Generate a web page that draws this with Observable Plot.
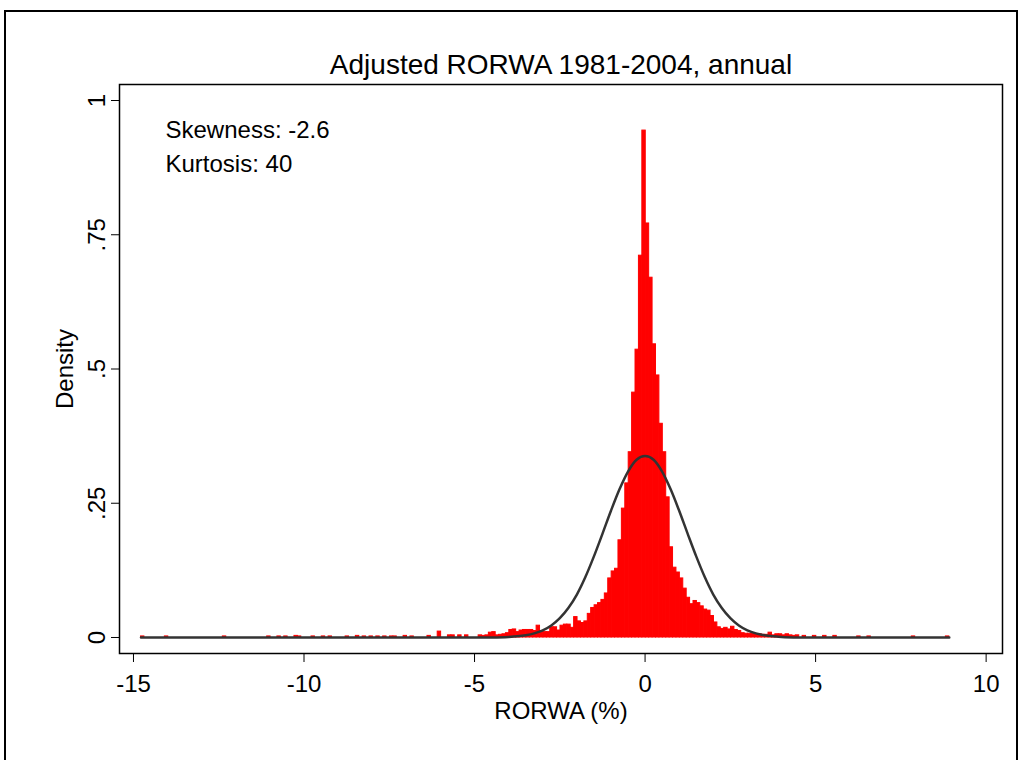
<!DOCTYPE html>
<html>
<head>
<meta charset="utf-8">
<script src="https://cdn.jsdelivr.net/npm/d3@7"></script>
<script src="https://cdn.jsdelivr.net/npm/@observablehq/plot@0.6"></script>
<style>
html, body { margin: 0; padding: 0; background: #fff; overflow: hidden; }
#wrap { position: relative; width: 1022px; height: 760px; }
#border { position: absolute; left: 4px; top: 10px; width: 1014px; height: 800px; border: 2px solid #000; box-sizing: border-box; }
#chart { position: absolute; left: 0; top: 0; }
</style>
</head>
<body>
<div id="wrap"><div id="border"></div><div id="chart"></div></div>
<script>
// Histogram: left edge of each non-empty bin (bin width 0.1) and its density
const binWidth = 0.1;
const binStart = [
  -14.78, -14.08, -12.38, -11.08, -10.78, -10.58, -10.28, -10.18, -9.78, -9.48, -9.28,
  -8.78, -8.48, -8.28, -8.08, -7.88, -7.68, -7.48, -7.38, -7.08, -6.88, -6.38, -6.08,
  -5.78, -5.68, -5.48, -5.28, -4.88, -4.78, -4.68, -4.58, -4.48, -4.38, -4.28, -4.18,
  -4.08, -3.98, -3.88, -3.78, -3.68, -3.58, -3.48, -3.38, -3.28, -3.18, -3.08, -2.98,
  -2.88, -2.78, -2.68, -2.58, -2.48, -2.38, -2.28, -2.18, -2.08, -1.98, -1.88, -1.78,
  -1.68, -1.58, -1.48, -1.38, -1.28, -1.18, -1.08, -0.98, -0.88, -0.78, -0.68, -0.58,
  -0.48, -0.38, -0.28, -0.18, -0.08, 0.02, 0.12, 0.22, 0.32, 0.42, 0.52, 0.62, 0.72,
  0.82, 0.92, 1.02, 1.12, 1.22, 1.32, 1.42, 1.52, 1.62, 1.72, 1.82, 1.92, 2.02, 2.12,
  2.22, 2.32, 2.42, 2.52, 2.62, 2.72, 2.82, 2.92, 3.02, 3.12, 3.22, 3.32, 3.42, 3.52,
  3.62, 3.72, 3.82, 3.92, 4.02, 4.12, 4.22, 4.32, 4.42, 4.62, 4.92, 5.22, 5.52, 6.22,
  6.52, 7.82, 8.82
];
const density = [
  0.002, 0.002, 0.002, 0.002, 0.002, 0.002, 0.003, 0.002, 0.002, 0.002, 0.002,
  0.002, 0.003, 0.002, 0.002, 0.002, 0.002, 0.002, 0.002, 0.003, 0.002, 0.003, 0.011,
  0.004, 0.004, 0.004, 0.004, 0.004, 0.003, 0.004, 0.009, 0.010, 0.004, 0.005, 0.006,
  0.008, 0.014, 0.015, 0.010, 0.013, 0.014, 0.014, 0.014, 0.012, 0.022, 0.010, 0.010,
  0.010, 0.019, 0.019, 0.013, 0.022, 0.024, 0.024, 0.018, 0.038, 0.030, 0.027, 0.030,
  0.044, 0.055, 0.060, 0.064, 0.070, 0.082, 0.110, 0.123, 0.128, 0.181, 0.240, 0.287,
  0.345, 0.456, 0.536, 0.711, 0.944, 0.771, 0.670, 0.546, 0.488, 0.398, 0.345, 0.261, 0.168,
  0.130, 0.121, 0.110, 0.091, 0.074, 0.062, 0.068, 0.064, 0.058, 0.052, 0.050, 0.040, 0.028, 0.019,
  0.016, 0.018, 0.015, 0.020, 0.014, 0.012, 0.008, 0.007, 0.007, 0.007, 0.006, 0.006, 0.005, 0.005,
  0.009, 0.004, 0.006, 0.006, 0.004, 0.006, 0.004, 0.003, 0.004, 0.003, 0.003, 0.003, 0.003, 0.002,
  0.002, 0.002, 0.002
];

// Overlaid normal density curve
const curveX = [-14.78, -5, -4.5, -4, -3.75, -3.5, -3.25, -3, -2.75, -2.5, -2.25, -2, -1.75, -1.5, -1.25, -1, -0.75, -0.5, -0.25, 0,
  0.25, 0.5, 0.75, 1, 1.25, 1.5, 1.75, 2, 2.25, 2.5, 2.75, 3, 3.25, 3.5, 3.75, 4, 4.5, 5, 8.92];
const curveY = [0, 0, 0.0002, 0.0011, 0.0022, 0.0042, 0.0076, 0.0133, 0.0224, 0.036, 0.0549, 0.080, 0.1126, 0.151, 0.193, 0.236, 0.276, 0.309, 0.331, 0.338,
  0.331, 0.309, 0.276, 0.236, 0.193, 0.151, 0.1126, 0.080, 0.0549, 0.036, 0.0224, 0.0133, 0.0076, 0.0042, 0.0022, 0.0011, 0.0002, 0, 0];

const xTicks = [-15, -10, -5, 0, 5, 10];
const yTicks = [0, 0.25, 0.5, 0.75, 1];
const yTickLabels = ["0", ".25", ".5", ".75", "1"];
const titleText = "Adjusted RORWA 1981-2004, annual";
const xLabel = "RORWA (%)";
const yLabel = "Density";
const statsText = "Skewness: -2.6\nKurtosis: 40";

const bars = binStart.map((s, i) => ({x1: s, x2: s + binWidth, d: density[i]}));
const curve = curveX.map((x, i) => ({x, y: curveY[i]}));

const font = "'Liberation Sans', Arial, Helvetica, sans-serif";

const chart = Plot.plot({
  width: 1022,
  height: 760,
  marginLeft: 119,
  marginRight: 20,
  marginTop: 84,
  marginBottom: 107,
  x: {domain: [-15.41, 10.48]},
  y: {domain: [-0.0298, 1.0298]},
  style: {fontFamily: font, fontSize: "24px", color: "#000", background: "transparent", overflow: "visible"},
  marks: [
    Plot.rect(bars, {x1: "x1", x2: "x2", y1: 0, y2: "d", fill: "#ff0000", stroke: "#ff0000", strokeWidth: 1}),
    Plot.line(curve, {x: "x", y: "y", stroke: "#333333", strokeWidth: 2.5, curve: "monotone-x"}),
    Plot.frame({stroke: "#000", strokeWidth: 1.5}),
    Plot.axisX({ticks: xTicks, tickSize: 9, tickPadding: 12, label: null, fontSize: 24, tickFormat: d => String(d).replace("\u2212", "-")}),
    Plot.axisY({ticks: yTicks, tickSize: 8, tickFormat: () => "", label: null}),
    Plot.text(yTicks, {y: d => d, text: (d, i) => yTickLabels[i], frameAnchor: "left", dx: -15, rotate: -90, textAnchor: "middle", lineAnchor: "bottom", fontSize: 24}),
    Plot.text([yLabel], {frameAnchor: "left", dx: -47, rotate: -90, textAnchor: "middle", lineAnchor: "bottom", fontSize: 24}),
    Plot.text([xLabel], {frameAnchor: "bottom", dy: 48, lineAnchor: "top", fontSize: 24}),
    Plot.text([titleText], {frameAnchor: "top", dy: -11, lineAnchor: "bottom", fontSize: 28}),
    Plot.text([statsText], {frameAnchor: "top-left", dx: 46, dy: 30, textAnchor: "start", lineAnchor: "top", lineHeight: 1.4, fontSize: 24})
  ]
});
document.getElementById("chart").appendChild(chart);
</script>
</body>
</html>
